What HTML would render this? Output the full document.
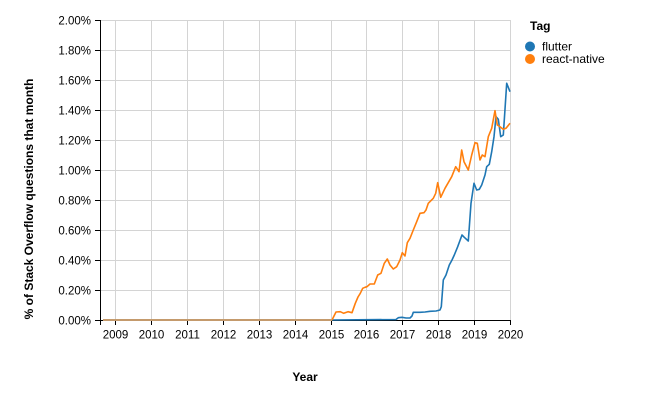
<!DOCTYPE html>
<html><head><meta charset="utf-8"><style>
html,body{margin:0;padding:0;background:#fff;}
svg{display:block;font-family:"Liberation Sans",Arial,sans-serif;}
</style></head><body>
<svg width="660" height="400" viewBox="0 0 660 400" xmlns="http://www.w3.org/2000/svg">
<rect width="660" height="400" fill="#fff"/>
<g stroke="#d4d4d4" stroke-width="1">
<line x1="100" y1="20.5" x2="510" y2="20.5"/>
<line x1="100" y1="50.5" x2="510" y2="50.5"/>
<line x1="100" y1="80.5" x2="510" y2="80.5"/>
<line x1="100" y1="110.5" x2="510" y2="110.5"/>
<line x1="100" y1="140.5" x2="510" y2="140.5"/>
<line x1="100" y1="170.5" x2="510" y2="170.5"/>
<line x1="100" y1="200.5" x2="510" y2="200.5"/>
<line x1="100" y1="230.5" x2="510" y2="230.5"/>
<line x1="100" y1="260.5" x2="510" y2="260.5"/>
<line x1="100" y1="290.5" x2="510" y2="290.5"/>
<line x1="115.5" y1="20" x2="115.5" y2="320"/>
<line x1="151.5" y1="20" x2="151.5" y2="320"/>
<line x1="187.5" y1="20" x2="187.5" y2="320"/>
<line x1="223.5" y1="20" x2="223.5" y2="320"/>
<line x1="259.5" y1="20" x2="259.5" y2="320"/>
<line x1="295.5" y1="20" x2="295.5" y2="320"/>
<line x1="331.5" y1="20" x2="331.5" y2="320"/>
<line x1="366.5" y1="20" x2="366.5" y2="320"/>
<line x1="402.5" y1="20" x2="402.5" y2="320"/>
<line x1="438.5" y1="20" x2="438.5" y2="320"/>
<line x1="474.5" y1="20" x2="474.5" y2="320"/>
<line x1="510.5" y1="20" x2="510.5" y2="320"/>
</g>
<g stroke="#000" stroke-width="1">
<line x1="100.5" y1="20" x2="100.5" y2="325"/>
<line x1="100" y1="320.5" x2="511" y2="320.5"/>
<line x1="95" y1="20.5" x2="100" y2="20.5"/>
<line x1="95" y1="50.5" x2="100" y2="50.5"/>
<line x1="95" y1="80.5" x2="100" y2="80.5"/>
<line x1="95" y1="110.5" x2="100" y2="110.5"/>
<line x1="95" y1="140.5" x2="100" y2="140.5"/>
<line x1="95" y1="170.5" x2="100" y2="170.5"/>
<line x1="95" y1="200.5" x2="100" y2="200.5"/>
<line x1="95" y1="230.5" x2="100" y2="230.5"/>
<line x1="95" y1="260.5" x2="100" y2="260.5"/>
<line x1="95" y1="290.5" x2="100" y2="290.5"/>
<line x1="95" y1="320.5" x2="100" y2="320.5"/>
<line x1="115.5" y1="320" x2="115.5" y2="325"/>
<line x1="151.5" y1="320" x2="151.5" y2="325"/>
<line x1="187.5" y1="320" x2="187.5" y2="325"/>
<line x1="223.5" y1="320" x2="223.5" y2="325"/>
<line x1="259.5" y1="320" x2="259.5" y2="325"/>
<line x1="295.5" y1="320" x2="295.5" y2="325"/>
<line x1="331.5" y1="320" x2="331.5" y2="325"/>
<line x1="366.5" y1="320" x2="366.5" y2="325"/>
<line x1="402.5" y1="320" x2="402.5" y2="325"/>
<line x1="438.5" y1="320" x2="438.5" y2="325"/>
<line x1="474.5" y1="320" x2="474.5" y2="325"/>
<line x1="510.5" y1="320" x2="510.5" y2="325"/>
</g>
<g font-size="11.5" fill="#000" text-anchor="end">
<text x="91" y="24.5">2.00%</text>
<text x="91" y="54.5">1.80%</text>
<text x="91" y="84.5">1.60%</text>
<text x="91" y="114.5">1.40%</text>
<text x="91" y="144.5">1.20%</text>
<text x="91" y="174.5">1.00%</text>
<text x="91" y="204.5">0.80%</text>
<text x="91" y="234.5">0.60%</text>
<text x="91" y="264.5">0.40%</text>
<text x="91" y="294.5">0.20%</text>
<text x="91" y="324.5">0.00%</text>
</g>
<g font-size="11.5" fill="#000" text-anchor="middle">
<text x="115.5" y="338.5">2009</text>
<text x="151.5" y="338.5">2010</text>
<text x="187.5" y="338.5">2011</text>
<text x="223.5" y="338.5">2012</text>
<text x="259.5" y="338.5">2013</text>
<text x="295.5" y="338.5">2014</text>
<text x="331.5" y="338.5">2015</text>
<text x="366.5" y="338.5">2016</text>
<text x="402.5" y="338.5">2017</text>
<text x="438.5" y="338.5">2018</text>
<text x="474.5" y="338.5">2019</text>
<text x="510.5" y="338.5">2020</text>
</g>
<text x="305" y="381" font-size="12" font-weight="bold" text-anchor="middle">Year</text>
<text transform="translate(33,199) rotate(-90)" font-size="12" font-weight="bold" text-anchor="middle">% of Stack Overflow questions that month</text>
<g fill="none" stroke-width="1.6" stroke-linejoin="round">
<polyline stroke="#1f77b4" points="103,320 332,320 396,319.5 398.3,317.7 402,317.3 406,318 410,318 412,316 413.3,312.3 420,312.3 425,312 430,311.3 436,311 440,310 441.3,306.7 443.3,280 446,275 449.3,265 452,260 454.3,255 457.7,246.7 462,235 464.3,237.3 468.3,241 471,203.3 474,183.3 476.7,190 479.3,189.3 481.7,185 485,175 486.7,166.7 489.3,164.3 491.7,151.7 494,136.7 496,116.7 498.3,119.3 500.7,136.7 503.3,135 506.7,83.3 510,91.7"/>
<polyline stroke="#ff7f0e" points="332,320 334,316 336,312 340.3,311.7 343.7,313.3 348,311.7 352,312.7 355.3,303.3 358,297 360.3,293.3 362.7,288.3 365,287.3 367,286.7 370,284 374.3,284 377.7,275 381,273.3 384.3,263.3 387.3,259 390,265 393.3,269 396.7,266.7 400,260 402.3,252.7 405,256 407.3,242.7 410,238.3 413.3,230 416.7,221.7 420,213.3 424,212.7 426,210 428.3,203.3 433.3,198.3 435.7,193.3 437.7,182.7 440.7,197.3 445,188.3 451.7,176.7 455.7,166.7 459,171.7 461.7,150 464,161.7 468.3,170 471.7,155 475,142.7 477.3,143.3 480,160 482.3,155 485,156.7 488.3,136.7 491.7,128.3 495,110.7 497.3,125 500,126.7 503.3,129.3 506,128.3 510,123.3"/>
<line x1="103" y1="320" x2="332" y2="320" stroke="#c49a6c" stroke-width="2"/>
</g>
<text x="530" y="30" font-size="12" font-weight="bold">Tag</text>
<circle cx="530" cy="46.5" r="5" fill="#1f77b4"/>
<circle cx="530" cy="59" r="5" fill="#ff7f0e"/>
<text x="542" y="50.5" font-size="12">flutter</text>
<text x="542" y="63" font-size="12">react-native</text>
</svg>
</body></html>
